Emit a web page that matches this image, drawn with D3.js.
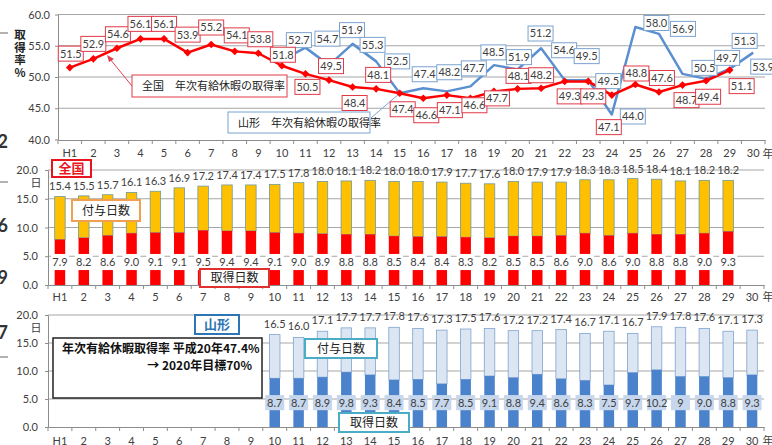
<!DOCTYPE html>
<html>
<head>
<meta charset="utf-8">
<script src="https://cdn.jsdelivr.net/npm/d3@7"></script>
<style>
  body { margin: 0; background: #fff; }
  svg { display: block; }
</style>
</head>
<body>
<svg id="chart" width="772" height="445"></svg>
<script>
// years H1..H30
var years = ["H1","2","3","4","5","6","7","8","9","10","11","12","13","14","15",
             "16","17","18","19","20","21","22","23","24","25","26","27","28","29","30"];

// 全国 取得率 (H1..H29)
var zenkokuRate = [51.5,52.9,54.6,56.1,56.1,53.9,55.2,54.1,53.8,51.8,50.5,49.5,48.4,48.1,47.4,
                   46.6,47.1,46.6,47.7,48.1,48.2,49.3,49.3,47.1,48.8,47.6,48.7,49.4,51.1];
// 山形 取得率 (H10..H30)
var yamagataYears = years.slice(9);
var yamagataRate = [52.7,54.7,51.9,55.3,52.5,47.4,48.2,47.7,48.5,51.9,51.2,54.6,49.5,49.5,44.0,
                    58.0,56.9,50.5,49.7,51.3,53.9];

// 全国 付与日数 / 取得日数 (H1..H29)
var zenkokuGranted = [15.4,15.5,15.7,16.1,16.3,16.9,17.2,17.4,17.4,17.5,17.8,18.0,18.1,18.2,18.0,
                      18.0,17.9,17.7,17.6,18.0,17.9,17.9,18.3,18.3,18.5,18.4,18.1,18.2,18.2];
var zenkokuTaken = [7.9,8.2,8.6,9.0,9.1,9.1,9.5,9.4,9.4,9.1,9.0,8.9,8.8,8.8,8.5,
                    8.4,8.4,8.3,8.2,8.5,8.5,8.6,9.0,8.6,9.0,8.8,8.8,9.0,9.3];

// 山形 付与日数 / 取得日数 (H10..H30)
var yamagataGranted = [16.5,16.0,17.1,17.7,17.7,17.8,17.6,17.3,17.5,17.6,17.2,17.2,17.4,16.7,17.1,
                       16.7,17.9,17.8,17.6,17.1,17.3];
var yamagataTaken = [8.7,8.7,8.9,9.8,9.3,8.4,8.5,7.7,8.5,9.1,8.8,9.4,8.6,8.3,7.5,
                     9.7,10.2,9.0,9.0,8.8,9.3];

var rateTicks = [40,45,50,55,60];
var dayTicks = [0,5,10,15,20];

// label nudges (px) so the boxes sit where the original put them
var redLabelOffset = [[1,-14],[0,-15],[1,-14],[0,-15],[0,-15],[0,-18],[0,-17],[2,-16],[2,-14],[1,-11],
                      [2,13],[2,-14],[2,16],[2,-14],[3,16],[3,17],[3,15],[4,7],[3,7],[1,-13],
                      [0,-13],[5,15],[5,15],[-3,32],[1,-11],[3,-14],[4,15],[2,16],[12,16]];
var blueLabelOffset = [[17,-20],[22,-9],[23,-35],[20,1],[21,0],[25,-19],[26,-16],[27,-23],[23,-34],[25,-8],
                       [23,-36],[23,2],[22,-24],[20,1],[21,2],[21,-4],[24,-5],[22,-6],[21,-21],[15,-28],[10,14]];

var numFont = "Lato, 'Liberation Sans', sans-serif";
var jpFont = "'Noto Sans CJK JP', sans-serif";
var fmt = d3.format(".1f");

var svg = d3.select("#chart");

/*
    LEFT EDGE (cropped slide bits)
*/
[[33],[182],[357]].forEach(function(d) {
    svg.append("line").attr("x1", 0).attr("x2", 8).attr("y1", d[0]).attr("y2", d[0])
        .attr("stroke", "#999").attr("stroke-width", 1.5);
});
[["2",148],["6",232],["9",284],["7",339]].forEach(function(d) {
    svg.append("text").attr("x", 8).attr("y", d[1]).attr("text-anchor", "end")
        .style("font", "bold 18px " + numFont).attr("fill", "#333").text(d[0]);
});
// vertical axis title
svg.append("text").attr("x", 20).attr("y", 29)
    .style("writing-mode", "vertical-rl").style("text-orientation", "upright")
    .style("letter-spacing", "1px")
    .style("font", "bold 11.5px " + jpFont).attr("fill", "#222")
    .text("取得率%");

/*
    CHART 1 : 取得率 lines
*/
var x1 = d3.scaleBand().domain(years).range([58, 765]);
var y1 = d3.scaleLinear().domain([40, 60]).range([139.5, 14.5]);
var cx1 = function(c) { return x1(c) + x1.bandwidth() / 2; };

var g1 = svg.append("g");

g1.append("g").selectAll("line").data(rateTicks.slice(1)).join("line")
    .attr("x1", 58).attr("x2", 765)
    .attr("y1", function(d) { return y1(d); }).attr("y2", function(d) { return y1(d); })
    .attr("stroke", "#a6a6a6").attr("stroke-width", 1);

var yAxis1 = g1.append("g").attr("transform", "translate(58,0)")
    .call(d3.axisLeft(y1).tickValues(rateTicks).tickFormat(fmt).tickSizeInner(3).tickSizeOuter(0).tickPadding(5));
var xAxis1 = g1.append("g").attr("transform", "translate(0,140)")
    .call(d3.axisBottom(x1).tickSizeInner(0).tickSizeOuter(0).tickPadding(9));
[yAxis1, xAxis1].forEach(function(a) {
    a.select(".domain").attr("stroke", "#8c8c8c");
    a.selectAll(".tick line").attr("stroke", "#8c8c8c");
    a.selectAll("text").style("font", "11px " + numFont).attr("fill", "#404040");
});
g1.append("g").selectAll("line").data(years.concat(["end"])).join("line")
    .attr("x1", function(d) { return d === "end" ? 765 : x1(d); })
    .attr("x2", function(d) { return d === "end" ? 765 : x1(d); })
    .attr("y1", 140).attr("y2", 144).attr("stroke", "#8c8c8c");
g1.append("text").attr("x", 768).attr("y", 158).attr("text-anchor", "middle")
    .style("font", "11px " + jpFont).attr("fill", "#404040").text("年");

// legend callouts
g1.append("line").attr("x1", 371).attr("y1", 118).attr("x2", cx1("15")).attr("y2", y1(47.4))
    .attr("stroke", "#7ba3cf").attr("stroke-width", 1);
g1.append("line").attr("x1", 132).attr("y1", 86).attr("x2", 110).attr("y2", 59)
    .attr("stroke", "#e04050").attr("stroke-width", 1);
g1.append("path").attr("d", "M107,55 L114,59 L109,62 Z").attr("fill", "#e04050");

g1.append("rect").attr("x", 132).attr("y", 75).attr("width", 155).attr("height", 22)
    .attr("fill", "#fff").attr("stroke", "#e03a48").attr("stroke-width", 1);
g1.append("text").attr("x", 142).attr("y", 90).style("font", "11px " + jpFont).attr("fill", "#222")
    .text("全国　年次有給休暇の取得率");
g1.append("rect").attr("x", 228).attr("y", 112).attr("width", 142).attr("height", 21)
    .attr("fill", "#fff").attr("stroke", "#7ba3cf").attr("stroke-width", 1);
g1.append("text").attr("x", 238).attr("y", 127).style("font", "11px " + jpFont).attr("fill", "#222")
    .text("山形　年次有給休暇の取得率");

var line1 = d3.line()
    .x(function(d) { return cx1(d.year); })
    .y(function(d) { return y1(d.value); });

var zenkokuPts = zenkokuRate.map(function(v, i) { return {year: years[i], value: v}; });
var yamagataPts = yamagataRate.map(function(v, i) { return {year: yamagataYears[i], value: v}; });

g1.append("path").datum(yamagataPts).attr("d", line1)
    .attr("fill", "none").attr("stroke", "#5a8fd0").attr("stroke-width", 2.5)
    .attr("stroke-linejoin", "round");
g1.append("path").datum(zenkokuPts).attr("d", line1)
    .attr("fill", "none").attr("stroke", "#ff0000").attr("stroke-width", 2.5)
    .attr("stroke-linejoin", "round");
g1.append("g").selectAll("path").data(zenkokuPts).join("path")
    .attr("d", d3.symbol(d3.symbolSquare, 30))
    .attr("transform", function(d) { return "translate(" + cx1(d.year) + "," + y1(d.value) + ") rotate(45)"; })
    .attr("fill", "#ff0000");

function rateLabels(pts, offs, stroke) {
    var lg = g1.append("g").selectAll("g").data(pts).join("g")
        .attr("transform", function(d, i) {
            return "translate(" + (cx1(d.year) + offs[i][0]) + "," + (y1(d.value) + offs[i][1]) + ")";
        });
    lg.append("rect").attr("x", -12.5).attr("y", -7.5).attr("width", 25).attr("height", 15)
        .attr("fill", "#fff").attr("stroke", stroke).attr("stroke-width", 1);
    lg.append("text").attr("text-anchor", "middle").attr("dy", "0.36em")
        .style("font", "11px " + numFont).attr("fill", "#404040")
        .text(function(d) { return fmt(d.value); });
}
rateLabels(yamagataPts, blueLabelOffset, "#7ba3cf");
rateLabels(zenkokuPts, redLabelOffset, "#e03a48");

/*
    DAY CHARTS (全国 / 山形)
*/
function dayFrame(y, axisY, padX) {
    var x = d3.scaleBand().domain(years).range([48, 764]);
    var g = svg.append("g");
    g.append("g").selectAll("line").data(dayTicks.slice(1)).join("line")
        .attr("x1", 48).attr("x2", 764)
        .attr("y1", function(d) { return y(d); }).attr("y2", function(d) { return y(d); })
        .attr("stroke", "#a6a6a6").attr("stroke-width", 1);
    var ya = g.append("g").attr("transform", "translate(48,0)")
        .call(d3.axisLeft(y).tickValues(dayTicks).tickFormat(fmt).tickSizeInner(3).tickSizeOuter(0).tickPadding(7));
    var xa = g.append("g").attr("transform", "translate(0," + axisY + ")")
        .call(d3.axisBottom(x).tickSizeInner(0).tickSizeOuter(0).tickPadding(padX));
    [ya, xa].forEach(function(a) {
        a.select(".domain").attr("stroke", "#8c8c8c");
        a.selectAll(".tick line").attr("stroke", "#8c8c8c");
        a.selectAll("text").style("font", "11px " + numFont).attr("fill", "#404040");
    });
    g.append("g").selectAll("line").data(years.concat(["end"])).join("line")
        .attr("x1", function(d) { return d === "end" ? 764 : x(d); })
        .attr("x2", function(d) { return d === "end" ? 764 : x(d); })
        .attr("y1", axisY).attr("y2", axisY + 4).attr("stroke", "#8c8c8c");
    g.append("text").attr("x", 768).attr("y", axisY + padX + 8).attr("text-anchor", "middle")
        .style("font", "11px " + jpFont).attr("fill", "#404040").text("年");
    g.append("text").attr("x", 36).attr("y", y(20) + 17).attr("text-anchor", "middle")
        .style("font", "11px " + jpFont).attr("fill", "#404040").text("日");
    return {g: g, x: x};
}

function box(g, x, y, w, h, stroke, sw, label, color, weight, size) {
    g.append("rect").attr("x", x).attr("y", y).attr("width", w).attr("height", h)
        .attr("fill", "#fff").attr("stroke", stroke).attr("stroke-width", sw);
    g.append("text").attr("x", x + w / 2).attr("y", y + h / 2).attr("dy", "0.36em")
        .attr("text-anchor", "middle")
        .style("font", (weight || "normal") + " " + (size || 12) + "px " + jpFont)
        .attr("fill", color).text(label);
}

// ---- 全国
var y2 = d3.scaleLinear().domain([0, 20]).range([285, 170]);
var f2 = dayFrame(y2, 285, 8);
var g2 = f2.g, x2 = f2.x;
var bw = 10.5;
var cx2 = function(c) { return x2(c) + x2.bandwidth() / 2; };
var zBars = zenkokuGranted.map(function(v, i) { return {year: years[i], granted: v, taken: zenkokuTaken[i]}; });

var zb = g2.append("g").selectAll("g").data(zBars).join("g");
zb.append("rect")
    .attr("x", function(d) { return cx2(d.year) - bw / 2; }).attr("width", bw)
    .attr("y", function(d) { return y2(d.granted); })
    .attr("height", function(d) { return y2(d.taken) - y2(d.granted); })
    .attr("fill", "#ffc000").attr("stroke", "#6f9a9a").attr("stroke-width", 0.8);
zb.append("rect")
    .attr("x", function(d) { return cx2(d.year) - bw / 2; }).attr("width", bw)
    .attr("y", function(d) { return y2(d.taken); })
    .attr("height", function(d) { return y2(0) - y2(d.taken); })
    .attr("fill", "#ff0000");
zb.append("rect")
    .attr("x", function(d) { return cx2(d.year) - 9; }).attr("width", 18)
    .attr("y", y2(5.4)).attr("height", y2(2.6) - y2(5.4))
    .attr("fill", "#fff");
zb.append("text")
    .attr("x", function(d) { return cx2(d.year); }).attr("y", y2(4.0)).attr("dy", "0.36em")
    .attr("text-anchor", "middle").style("font", "11px " + numFont).attr("fill", "#404040")
    .text(function(d) { return fmt(d.taken); });
zb.append("text")
    .attr("x", function(d) { return cx2(d.year); })
    .attr("y", function(d) { return y2(d.granted) - 10; }).attr("dy", "0.36em")
    .attr("text-anchor", "middle").style("font", "11px " + numFont).attr("fill", "#404040")
    .text(function(d) { return fmt(d.granted); });

box(g2, 52, 160, 39, 17, "#e8141e", 2, "全国", "#e8141e", "bold", 13);
box(g2, 72, 200, 68, 21, "#f0a050", 2, "付与日数", "#222");
box(g2, 200, 269, 69, 18, "#e03030", 2, "取得日数", "#222");

// ---- 山形
var y3 = d3.scaleLinear().domain([0, 20]).range([427, 315]);
var f3 = dayFrame(y3, 427, 10);
var g3 = f3.g, x3 = f3.x;
var cx3 = function(c) { return x3(c) + x3.bandwidth() / 2; };
var yBars = yamagataGranted.map(function(v, i) {
    // the original prints H27 as "9"
    return {year: yamagataYears[i], granted: v, taken: yamagataTaken[i],
            text: yamagataYears[i] === "27" ? "9" : fmt(yamagataTaken[i])};
});

var yb = g3.append("g").selectAll("g").data(yBars).join("g");
yb.append("rect")
    .attr("x", function(d) { return cx3(d.year) - bw / 2; }).attr("width", bw)
    .attr("y", function(d) { return y3(d.granted); })
    .attr("height", function(d) { return y3(d.taken) - y3(d.granted); })
    .attr("fill", "#dce6f2").attr("stroke", "#7fa3d0").attr("stroke-width", 0.8);
yb.append("rect")
    .attr("x", function(d) { return cx3(d.year) - bw / 2; }).attr("width", bw)
    .attr("y", function(d) { return y3(d.taken); })
    .attr("height", function(d) { return y3(0) - y3(d.taken); })
    .attr("fill", "#4a82cc");
yb.append("rect")
    .attr("x", function(d) { return cx3(d.year) - 9.5; }).attr("width", 19)
    .attr("y", y3(5.7)).attr("height", y3(3.0) - y3(5.7))
    .attr("fill", "#c6d6ec");
yb.append("text")
    .attr("x", function(d) { return cx3(d.year); }).attr("y", y3(4.35)).attr("dy", "0.36em")
    .attr("text-anchor", "middle").style("font", "11px " + numFont).attr("fill", "#404040")
    .text(function(d) { return d.text; });
yb.append("text")
    .attr("x", function(d) { return cx3(d.year); })
    .attr("y", function(d) { return y3(d.granted) - 11; }).attr("dy", "0.36em")
    .attr("text-anchor", "middle").style("font", "11px " + numFont).attr("fill", "#404040")
    .text(function(d) { return fmt(d.granted); });

box(g3, 195, 315, 44, 19, "#2e75b6", 2, "山形", "#2e75b6", "bold", 13);
box(g3, 305, 339, 72, 19, "#4bacc6", 2, "付与日数", "#222");
box(g3, 339, 413, 70, 19, "#4bacc6", 2, "取得日数", "#222");

g3.append("rect").attr("x", 53).attr("y", 338).attr("width", 209).attr("height", 60)
    .attr("fill", "#fff").attr("stroke", "#222").attr("stroke-width", 1.5);
g3.append("text").attr("x", 62).attr("y", 353).style("font", "bold 12px " + jpFont).attr("fill", "#111")
    .text("年次有給休暇取得率  平成20年47.4%");
g3.append("text").attr("x", 252).attr("y", 370).attr("text-anchor", "end")
    .style("font", "bold 12px " + jpFont).attr("fill", "#111")
    .text("→  2020年目標70%");
</script>
</body>
</html>
